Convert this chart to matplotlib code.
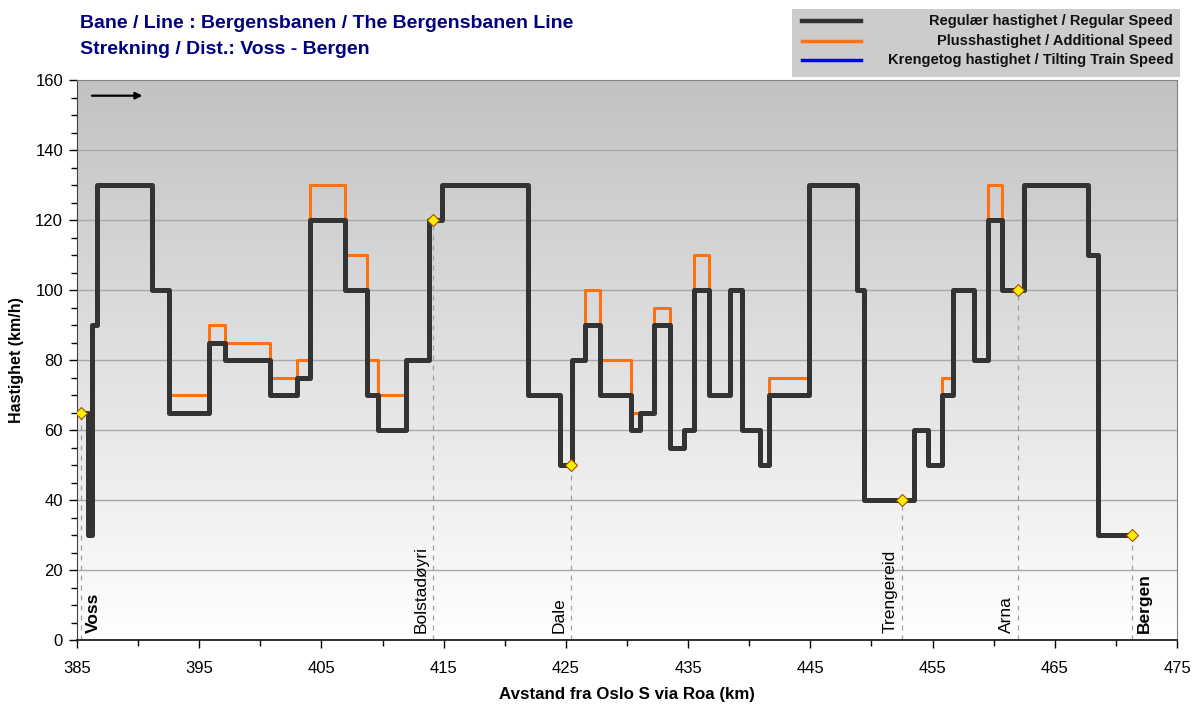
import numpy as np
import matplotlib.pyplot as plt
from matplotlib.lines import Line2D
from matplotlib.patches import Rectangle
from matplotlib.ticker import MultipleLocator

plt.rcParams['font.family'] = ['Liberation Sans', 'DejaVu Sans']

# Regular speed profile (km where a new limit starts, limit in km/h)
regular_km = [385.3, 385.9, 386.2, 386.6, 391.1, 392.5, 395.8, 397.1, 400.8, 403.0,
              404.1, 406.9, 408.7, 409.6, 411.9, 413.8, 414.9, 421.9, 424.5, 425.5,
              426.6, 427.8, 430.3, 431.1, 432.2, 433.5, 434.7, 435.5, 436.7, 438.4,
              439.4, 440.9, 441.6, 444.9, 448.8, 449.4, 453.5, 454.6, 455.8, 456.7,
              458.4, 459.5, 460.7, 462.5, 467.7, 468.5, 471.3]
regular_speed = [65, 30, 90, 130, 100, 65, 85, 80, 70, 75,
                 120, 100, 70, 60, 80, 120, 130, 70, 50, 80,
                 90, 70, 60, 65, 90, 55, 60, 100, 70, 100,
                 60, 50, 70, 130, 100, 40, 60, 50, 70, 100,
                 80, 120, 100, 130, 110, 30, 30]

# Additional speed profile
plus_km = [385.3, 385.9, 386.2, 386.6, 391.1, 392.5, 395.8, 397.1, 400.8, 403.0,
           404.1, 406.9, 408.7, 409.6, 411.9, 413.8, 414.9, 421.9, 424.5, 425.5,
           426.6, 427.8, 430.3, 432.2, 433.5, 434.7, 435.5, 436.7, 438.4, 439.4,
           440.9, 441.6, 444.9, 448.8, 449.4, 453.5, 454.6, 455.8, 456.7, 458.4,
           459.5, 460.7, 462.5, 467.7, 468.5, 471.3]
plus_speed = [65, 30, 90, 130, 100, 70, 90, 85, 75, 80,
              130, 110, 80, 70, 80, 120, 130, 70, 50, 80,
              100, 80, 65, 95, 55, 60, 110, 70, 100, 60,
              50, 75, 130, 100, 40, 60, 50, 75, 100, 80,
              130, 100, 130, 110, 30, 30]

# Stations
stations = ['Voss', 'Bolstadøyri', 'Dale', 'Trengereid', 'Arna', 'Bergen']
station_km = [385.3, 414.1, 425.4, 452.5, 462.0, 471.3]
station_speed = [65, 120, 50, 40, 100, 30]
station_bold = [True, False, False, False, False, True]

fig = plt.figure(figsize=(12, 7.04), dpi=100)
ax = fig.add_axes([77 / 1200, 64 / 704, 1100 / 1200, 560 / 704])
ax.set_xlim(385, 475)
ax.set_ylim(0, 160)

# gradient background
grad = np.linspace(0, 1, 256).reshape(-1, 1)
cmap = plt.matplotlib.colors.LinearSegmentedColormap.from_list('bg', ['#FFFFFF', '#C2C2C2'])
ax.imshow(grad, extent=[385, 475, 0, 160], origin='lower', aspect='auto',
          cmap=cmap, zorder=0)

for y in range(20, 160, 20):
    ax.axhline(y, color='#A8A8A8', lw=1, zorder=1)

# station guide lines
for km, sp in zip(station_km, station_speed):
    ax.plot([km, km], [0, sp], color='#A0A0A0', lw=0.9, ls=(0, (4, 4)), zorder=2)

ax.step(plus_km, plus_speed, where='post', color='#FF7010', lw=2.2, zorder=3)
ax.step(regular_km, regular_speed, where='post', color='#333333', lw=3.6, zorder=4)

ax.plot(station_km, station_speed, ls='none', marker='D', ms=6.5,
        mfc='#FFF000', mec='#A05000', mew=0.8, zorder=5)

for name, km, bold in zip(stations, station_km, station_bold):
    if bold:
        ax.text(km + 0.45, 2, name, rotation=90, ha='left', va='bottom',
                fontsize=12.5, fontweight='bold', zorder=6)
    else:
        ax.text(km - 0.35, 2, name, rotation=90, ha='right', va='bottom',
                fontsize=12.5, zorder=6)

# direction arrow
ax.annotate('', xy=(0.062, 0.972), xytext=(0.011, 0.972), xycoords='axes fraction',
            arrowprops=dict(arrowstyle='-|>', color='black', lw=1.6, mutation_scale=10))

ax.set_xticks(np.arange(385, 476, 10))
ax.set_xticks(np.arange(390, 475, 10), minor=True)
ax.yaxis.set_major_locator(MultipleLocator(20))
ax.yaxis.set_minor_locator(MultipleLocator(5))
ax.tick_params(axis='both', which='major', direction='out', length=6, width=1,
               labelsize=12, pad=4)
ax.tick_params(axis='both', which='minor', direction='out', length=4, width=1)
ax.tick_params(axis='x', pad=9)

for s in ['top', 'right']:
    ax.spines[s].set_color('#808080')
ax.spines['left'].set_color('#404040')
ax.spines['bottom'].set_color('#202020')
ax.spines['bottom'].set_linewidth(1.3)

ax.set_xlabel('Avstand fra Oslo S via Roa (km)', fontsize=12.2, fontweight='bold', labelpad=8)
ax.set_ylabel('Hastighet (km/h)', fontsize=11.5, fontweight='bold', labelpad=8)

# title
fig.text(80 / 1200, 1 - 23 / 704, 'Bane / Line : Bergensbanen / The Bergensbanen Line',
         color='#000080', fontsize=14, fontweight='bold', va='center')
fig.text(80 / 1200, 1 - 49 / 704, 'Strekning / Dist.: Voss - Bergen',
         color='#000080', fontsize=14, fontweight='bold', va='center')

# legend box
fig.patches.append(Rectangle((792 / 1200, 1 - 77 / 704), 388 / 1200, 68 / 704,
                             transform=fig.transFigure, facecolor='#CCCCCC',
                             edgecolor='none', zorder=0))
legend_items = [('Regulær hastighet / Regular Speed', '#333333', 3.2),
                ('Plusshastighet / Additional Speed', '#FF7010', 2.5),
                ('Krengetog hastighet / Tilting Train Speed', '#0000FF', 2.5)]
for i, (label, col, lw) in enumerate(legend_items):
    yy = 1 - (21 + 19.5 * i) / 704
    fig.lines.append(Line2D([802 / 1200, 861 / 1200], [yy, yy], transform=fig.transFigure,
                            color=col, lw=lw))
    fig.text(1173 / 1200, yy, label, ha='right', va='center', fontsize=10.5,
             fontweight='bold', color='#111111')

fig.savefig('out.png', dpi=100)
